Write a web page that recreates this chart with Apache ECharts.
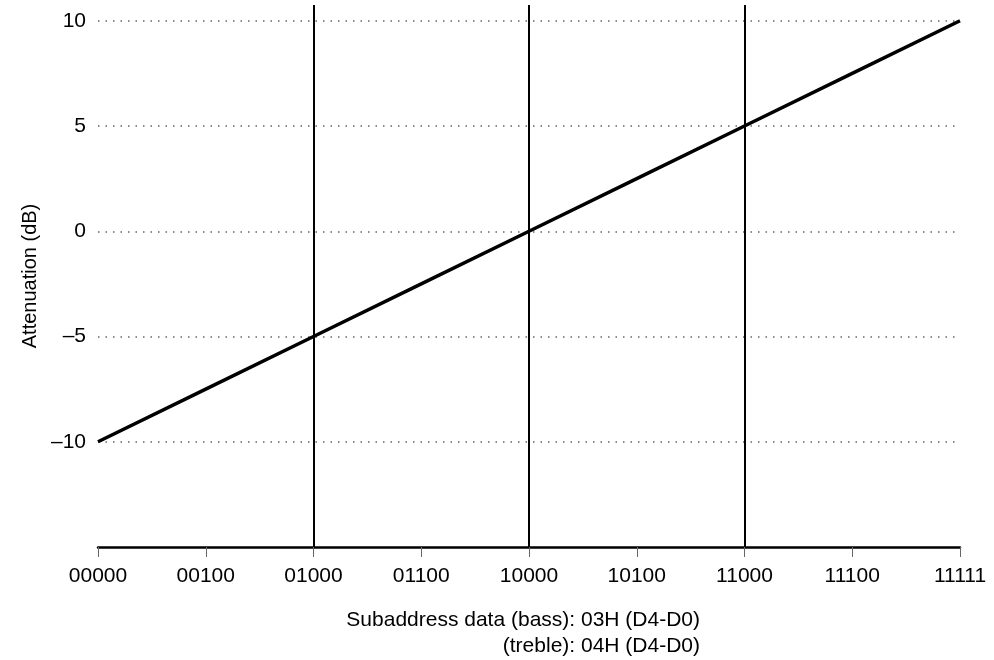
<!DOCTYPE html>
<html>
<head>
<meta charset="utf-8">
<title>Attenuation vs subaddress data</title>
<script src="https://cdn.jsdelivr.net/npm/echarts@6/dist/echarts.min.js"></script>
<style>
    html, body { margin: 0; padding: 0; background: #fff; }
    #chart { width: 994px; height: 660px; }
</style>
</head>
<body>
<div id="chart"></div>
<script>

// Data
// ------------------------------

// Tick labels along the horizontal axis (binary D4-D0)
var xTickLabels = ['00000', '00100', '01000', '01100', '10000', '10100', '11000', '11100', '11111'];

// Attenuation read at each tick (dB)
var attenuation = [-10, -7.5, -5, -2.5, 0, 2.5, 5, 7.5, 10];

// Reference verticals at 01000, 10000, 11000
var markerPositions = [2, 4, 6];

// Vertical axis ticks shown
var yTickValues = [-10, -5, 0, 5, 10];

// Horizontal axis title lines
var xTitleLines = ['Subaddress data (bass): 03H (D4-D0)', '(treble): 04H (D4-D0)'];


// Setup chart
// ------------------------------

var chart_element = document.getElementById('chart');
var chart = echarts.init(chart_element, null, { renderer: 'canvas' });

var fontFamily = '"Liberation Sans", Arial, Helvetica, sans-serif';

var seriesData = attenuation.map(function (v, i) {
    return [i, v];
});

var markData = markerPositions.map(function (p) {
    return { xAxis: p };
});

// Two right-aligned title lines under the axis
var titleGraphics = xTitleLines.map(function (line, i) {
    return {
        type: 'text',
        silent: true,
        style: {
            x: 700,
            y: 620 + i * 26,
            text: line,
            align: 'right',
            verticalAlign: 'middle',
            fontSize: 21,
            fontFamily: fontFamily,
            fill: '#000'
        }
    };
});

chart.setOption({

    animation: false,

    textStyle: {
        fontFamily: fontFamily,
        fontSize: 21,
        color: '#000'
    },

    grid: {
        left: 98,
        right: 34,
        top: 5,
        bottom: 113
    },

    // Horizontal axis
    xAxis: {
        type: 'value',
        min: 0,
        max: 8,
        interval: 1,
        axisLine: {
            onZero: false,
            lineStyle: { color: '#000', width: 2.5 }
        },
        axisTick: {
            length: 10,
            lineStyle: { color: '#666', width: 1 }
        },
        axisLabel: {
            margin: 19,
            fontSize: 21,
            color: '#000',
            fontFamily: fontFamily,
            formatter: function (v) {
                return xTickLabels[Math.round(v)] || '';
            }
        },
        splitLine: { show: false }
    },

    // Vertical axis
    yAxis: {
        type: 'value',
        min: -15,
        max: 10.75,
        interval: 5,
        name: 'Attenuation (dB)',
        nameLocation: 'middle',
        nameGap: 58,
        nameTextStyle: {
            fontSize: 20,
            color: '#000',
            fontFamily: fontFamily
        },
        axisLine: { show: false },
        axisTick: { show: false },
        axisLabel: {
            margin: 12,
            fontSize: 21,
            color: '#000',
            fontFamily: fontFamily,
            showMaxLabel: false,
            formatter: function (v) {
                if (yTickValues.indexOf(v) < 0) return '';
                return v < 0 ? '\u2013' + Math.abs(v) : String(v);
            }
        },
        splitLine: {
            show: true,
            showMinLine: false,
            showMaxLine: false,
            lineStyle: {
                color: '#666',
                width: 1.5,
                type: [1.5, 6]
            }
        }
    },

    graphic: titleGraphics,

    series: [{
        type: 'line',
        data: seriesData,
        symbol: 'none',
        lineStyle: { color: '#000', width: 3.5 },
        z: 3,
        markLine: {
            silent: true,
            symbol: ['none', 'none'],
            label: { show: false },
            lineStyle: { color: '#000', width: 2, type: 'solid' },
            data: markData
        }
    }]
});

</script>
</body>
</html>
